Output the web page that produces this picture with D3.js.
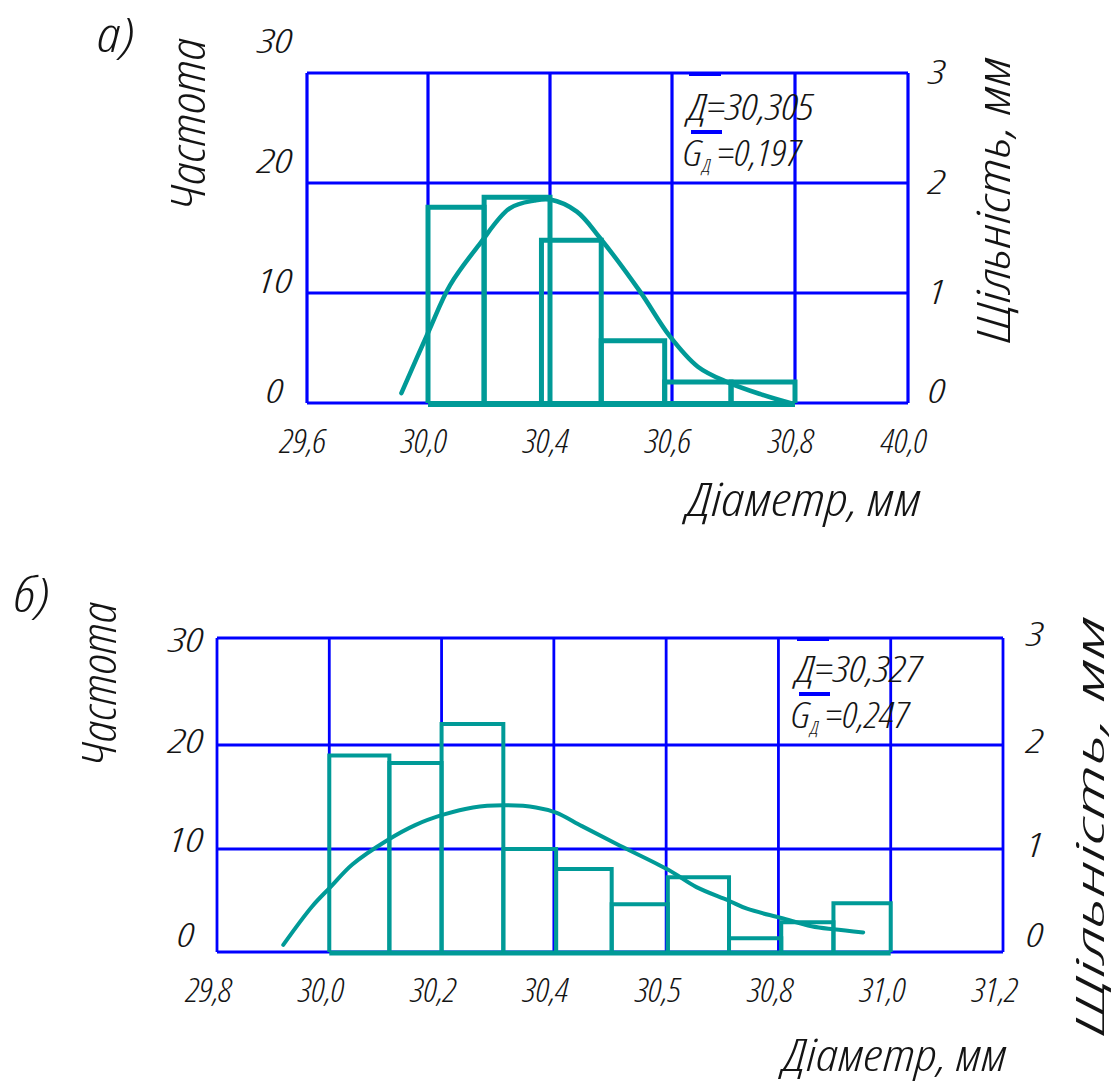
<!DOCTYPE html>
<html><head><meta charset="utf-8">
<script src="https://cdn.jsdelivr.net/npm/d3@7"></script>
<style>
html,body{margin:0;padding:0;background:#fff;}
svg{display:block;}
text{font-family:'Open Sans','DejaVu Sans Condensed','Liberation Sans',sans-serif;font-weight:300;font-stretch:75%;font-style:italic;fill:#141414;}
</style></head><body>
<script>
// ---------- panel а) ----------
const tickLabelsA = ["29,6", "30,0", "30,4", "30,6", "30,8", "40,0"];
const freqTicks = [0, 10, 20, 30];
const densTicks = [0, 1, 2, 3];
// bin edges in grid-division units of the diameter axis
const binStartA = [1.0, 1.46, 1.93, 2.42, 2.94, 3.48];
const binEndA   = [1.46, 2.0, 2.42, 2.94, 3.48, 4.0];
const freqA     = [17.8, 18.7, 14.8, 5.65, 1.9, 1.9];
const curveXA = [0.78, 1.005, 1.18, 1.42, 1.67, 1.87, 2.0, 2.22, 2.41, 2.74, 2.98, 3.21, 3.45, 3.72, 3.96];
const curveYA = [0.09, 0.65, 1.07, 1.44, 1.77, 1.84, 1.85, 1.74, 1.50, 1.01, 0.61, 0.33, 0.19, 0.08, 0.0];
const meanA = "30,305", sigmaA = "0,197";

// ---------- panel б) ----------
const tickValuesB = [29.8, 30.0, 30.2, 30.4, 30.6, 30.8, 31.0, 31.2];
const tickLabelsB = ["29,8", "30,0", "30,2", "30,4", "30,5", "30,8", "31,0", "31,2"];
const binStartB = [30.0, 30.107, 30.2, 30.31, 30.404, 30.503, 30.603, 30.712, 30.805, 30.898];
const binEndB   = [30.107, 30.2, 30.31, 30.404, 30.503, 30.603, 30.712, 30.805, 30.898, 31.0];
const freqB     = [19, 18.27, 21.96, 10, 8.06, 4.63, 7.25, 1.33, 2.88, 4.73];
const curveXB = [29.918, 29.969, 30.002, 30.041, 30.102, 30.153, 30.203, 30.256, 30.31, 30.368, 30.404, 30.45, 30.511, 30.603, 30.654, 30.711, 30.744, 30.805, 30.859, 30.898, 30.951];
const curveYB = [0.07, 0.44, 0.63, 0.85, 1.08, 1.23, 1.33, 1.40, 1.42, 1.40, 1.35, 1.22, 1.05, 0.80, 0.63, 0.50, 0.42, 0.33, 0.25, 0.22, 0.19];
const meanB = "30,327", sigmaB = "0,247";

const BLUE = "#0000ff", TEAL = "#009a97";

const svg = d3.select("body").append("svg").attr("width", 1117).attr("height", 1088);

function label(g, str, x, y, size, len, rot) {
  const t = g.append("text").text(str).attr("font-size", size).attr("text-anchor", "middle");
  if (len) t.attr("textLength", len).attr("lengthAdjust", "spacingAndGlyphs");
  if (rot) t.attr("transform", `translate(${x},${y}) rotate(${rot})`);
  else t.attr("x", x).attr("y", y);
  return t;
}

function panel(cfg) {
  const g = svg.append("g");
  const {x, y, y2} = cfg;
  const [x0, x1] = [x.range()[0], x.range()[x.range().length - 1]];
  const [yb, yt] = [y(0), y(30)];

  // grid
  g.selectAll(".hl").data(freqTicks).join("line")
    .attr("x1", x0).attr("x2", x1).attr("y1", d => y(d)).attr("y2", d => y(d))
    .attr("stroke", BLUE).attr("stroke-width", cfg.gridW);
  g.selectAll(".vl").data(cfg.gridX).join("line")
    .attr("x1", d => x(d)).attr("x2", d => x(d)).attr("y1", yb).attr("y2", yt)
    .attr("stroke", BLUE).attr("stroke-width", cfg.gridW);

  // histogram
  const bars = cfg.freq.map((f, i) => ({a: cfg.binStart[i], b: cfg.binEnd[i], f}));
  g.selectAll(".bar").data(bars).join("path")
    .attr("d", d => `M${x(d.a)},${yb}V${y(d.f)}H${x(d.b)}V${yb}`)
    .attr("fill", "none").attr("stroke", TEAL).attr("stroke-width", cfg.barW)
    .attr("stroke-linejoin", "miter");
  g.append("line")
    .attr("x1", x(cfg.binStart[0])).attr("x2", x(cfg.binEnd[cfg.binEnd.length - 1]))
    .attr("y1", yb + 1).attr("y2", yb + 1)
    .attr("stroke", TEAL).attr("stroke-width", cfg.barW + 1);

  // density curve
  const pts = cfg.curveX.map((v, i) => [v, cfg.curveY[i]]);
  g.append("path").datum(pts)
    .attr("d", d3.line().x(d => x(d[0])).y(d => y2(d[1])).curve(d3.curveCatmullRom))
    .attr("fill", "none").attr("stroke", TEAL).attr("stroke-width", cfg.curveW)
    .attr("stroke-linecap", "round");

  // tick labels
  cfg.xLabels.forEach((s, i) => label(g, s, x(cfg.gridX[i]) - cfg.xLabDx, cfg.xLabY, 34, 46));
  freqTicks.forEach(v => label(g, v, cfg.leftLabX, cfg.leftLabY(v) + 12, 34, v ? 35 : 17));
  densTicks.forEach(v => label(g, v, cfg.rightLabX, Math.min(y2(v) + cfg.rDy, yb - cfg.r0) + 12, 34, 17));

  // statistics box
  const ax = cfg.annX;
  g.append("rect").attr("x", ax + 1).attr("y", yt - 1).attr("width", 32).attr("height", 4).attr("fill", BLUE);
  g.append("text").attr("x", ax).attr("y", cfg.annY).attr("font-size", 37)
    .attr("textLength", 126).attr("lengthAdjust", "spacingAndGlyphs").text("Д=" + cfg.mean);
  g.append("rect").attr("x", ax + 3).attr("y", cfg.annY + 10).attr("width", 31).attr("height", 4).attr("fill", BLUE);
  const t2 = g.append("text").attr("x", ax - 5).attr("y", cfg.annY + 46).attr("font-size", 37)
    .attr("textLength", 118).attr("lengthAdjust", "spacingAndGlyphs");
  t2.append("tspan").text("G");
  t2.append("tspan").attr("font-size", 18).attr("dy", 6).text("Д");
  t2.append("tspan").attr("dy", -6).text(" =" + cfg.sigma);
}

// panel а)
const xA = d3.scaleLinear().domain([0, 1, 2, 3, 4, 5]).range([307, 428, 550, 672, 795, 908]);
const yA = d3.scaleLinear().domain([0, 30]).range([403, 73]);
const yA2 = d3.scaleLinear().domain([0, 3]).range([403, 73]);
const labYA = d3.scaleLinear().domain([0, 10, 20, 30]).range([391, 281, 161, 41]);
panel({
  x: xA, y: yA, y2: yA2, gridX: [0, 1, 2, 3, 4, 5], gridW: 3.2, barW: 5, curveW: 4.5,
  binStart: binStartA, binEnd: binEndA, freq: freqA, curveX: curveXA, curveY: curveYA,
  xLabels: tickLabelsA, xLabDx: 4, xLabY: 453,
  leftLabX: 275, leftLabY: labYA, rightLabX: 937, rDy: -1, r0: 12,
  annX: 688, annY: 120, mean: meanA, sigma: sigmaA
});

// panel б)
const xB = d3.scaleLinear().domain([29.8, 31.2]).range([217, 1003]);
const yB = d3.scaleLinear().domain([0, 10, 20, 30]).range([952, 849, 745, 638]);
const yB2 = d3.scaleLinear().domain([0, 1, 2, 3]).range([952, 849, 745, 638]);
const labYB = d3.scaleLinear().domain([0, 10, 20, 30]).range([935, 840, 741, 640]);
panel({
  x: xB, y: yB, y2: yB2, gridX: tickValuesB, gridW: 2.8, barW: 4, curveW: 4,
  binStart: binStartB, binEnd: binEndB, freq: freqB, curveX: curveXB, curveY: curveYB,
  xLabels: tickLabelsB, xLabDx: 8, xLabY: 1002,
  leftLabX: 186, leftLabY: labYB, rightLabX: 1035, rDy: -4, r0: 17,
  annX: 796, annY: 682, mean: meanB, sigma: sigmaB
});

// axis titles and panel letters
const t = svg.append("g");
label(t, "а)", 116, 52, 48, 38);
label(t, "б)", 32, 612, 48, 36);
label(t, "Частота", 205, 124, 48, 172, -90);
label(t, "Частота", 116, 684, 48, 164, -90);
label(t, "Діаметр, мм", 804, 516, 46, 234);
label(t, "Діаметр, мм", 895, 1071, 44, 224);
label(t, "Щільність, мм", 1010, 200, 46, 286, -90);
label(t, "Щільність, мм", 1104, 826, 38, 420, -90);
</script>
</body></html>
